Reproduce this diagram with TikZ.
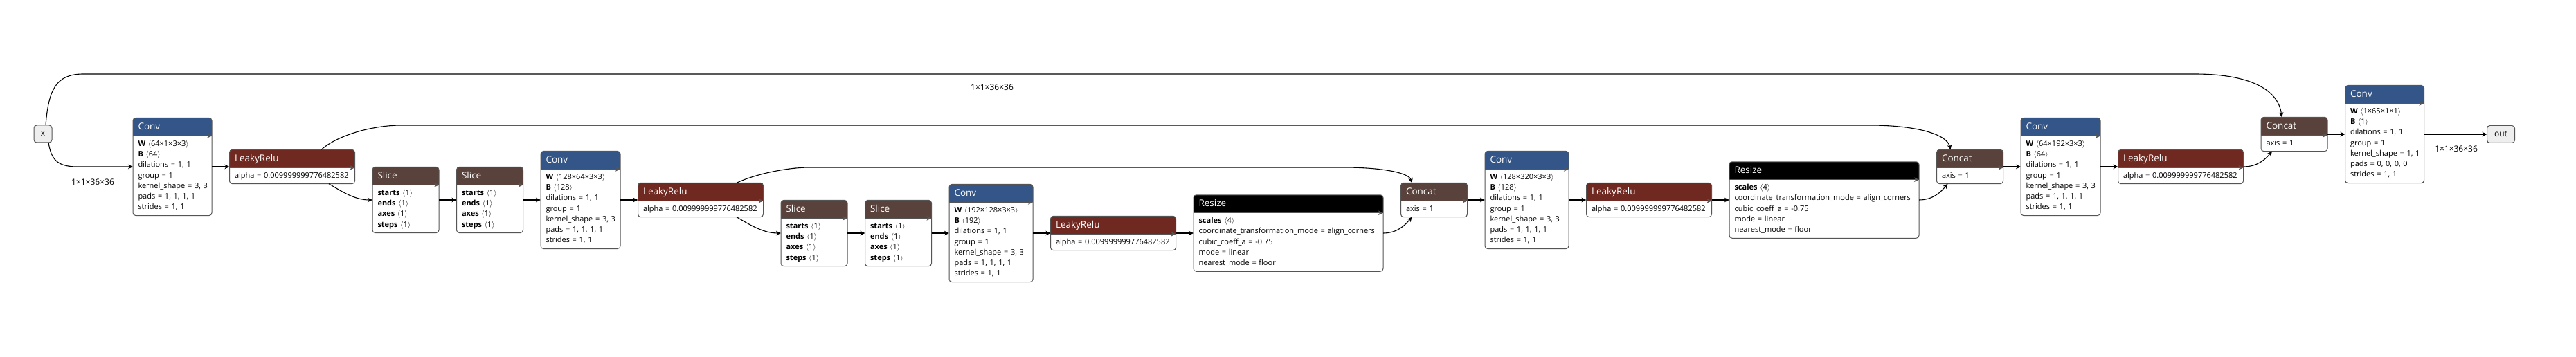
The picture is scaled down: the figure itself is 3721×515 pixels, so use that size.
\documentclass[tikz,border=0pt]{standalone}
\usepackage{fontspec}
\setmainfont{Open Sans}
\usepackage{tikz}
\usetikzlibrary{arrows.meta, positioning}

\definecolor{convblue}{HTML}{335588}
\definecolor{relured}{HTML}{702921}
\definecolor{tensorbrown}{HTML}{59423B}
\definecolor{bordergray}{HTML}{555555}
\definecolor{iofill}{HTML}{EEEEEE}

% header row 26pt, body rows 15.3pt
\newcommand{\optext}[2]{\noindent\begin{tabular}{@{}l@{}}
  \rule[-9pt]{0pt}{26pt}{\color{white}\fontsize{13.5}{16}\selectfont #1}\\
  \rule{0pt}{14.7pt}#2\rule[-8.6pt]{0pt}{0pt}
\end{tabular}}
\newcommand{\shp}[1]{$\langle$#1$\rangle$}
\newcommand{\convtext}[4]{\optext{Conv}{\textbf{W} \shp{#1}\\ \textbf{B} \shp{#2}\\ dilations = 1, 1\\ group = 1\\ kernel\_shape = #3\\ pads = #4\\ strides = 1, 1}}
\newcommand{\relutext}{\optext{LeakyRelu}{alpha = 0.009999999776482582}}
\newcommand{\slicetext}{\optext{Slice}{\textbf{starts} \shp{1}\\ \textbf{ends} \shp{1}\\ \textbf{axes} \shp{1}\\ \textbf{steps} \shp{1}}}
\newcommand{\resizetext}{\optext{Resize}{\textbf{scales} \shp{4}\\ coordinate\_transformation\_mode = align\_corners\\ cubic\_coeff\_a = -0.75\\ mode = linear\\ nearest\_mode = floor}}

\begin{document}
\begin{tikzpicture}[x=1pt,y=1pt,font=\fontsize{11}{15.3}\selectfont,node distance=25.5pt,->,>={Stealth[length=7pt,width=6.5pt,inset=2pt]}]

	\tikzset{node op/.style={draw=bordergray, line width=1pt, rounded corners=4pt,
			fill=white, inner xsep=7.5pt, inner ysep=0pt, outer sep=0pt, align=left,
			path picture={\fill[#1, sharp corners] (path picture bounding box.north west) rectangle ([yshift=-26pt]path picture bounding box.north east);
				\draw[bordergray, line width=1pt, sharp corners] ([yshift=-26pt]path picture bounding box.north west) -- ([yshift=-26pt]path picture bounding box.north east);}}}
	\tikzset{node conv/.style={node op=convblue, text width=#1}}
	\tikzset{node relu/.style={node op=relured, text width=166pt}}
	\tikzset{node slice/.style={node op=tensorbrown, text width=81pt}}
	\tikzset{node resize/.style={node op=black, text width=259pt}}
	\tikzset{node io/.style={draw=bordergray, line width=1pt, fill=iofill,
			rounded corners=4pt, minimum height=25pt, inner sep=0pt, outer sep=0pt,
			font=\fontsize{12}{14}\selectfont}}
	\tikzset{edge lbl/.style={font=\fontsize{12}{14}\selectfont}}

	\useasboundingbox (0,0) rectangle (3721,515);

	\node[node io, minimum width=26pt] (X) at (62,321.5) {x};

	\node[node conv=99pt, anchor=west] (Conv1) at (192,274) {\convtext{64×1×3×3}{64}{3, 3}{1, 1, 1, 1}};
	\node[node relu, right=of Conv1] (Relu1) {\relutext};
	\node[node slice, right=of Relu1, yshift=-48pt] (Slice1) {\slicetext};
	\node[node slice, right=of Slice1] (Slice2) {\slicetext};
	\node[node conv=100pt, right=of Slice2] (Conv2) {\convtext{128×64×3×3}{128}{3, 3}{1, 1, 1, 1}};
	\node[node relu, right=of Conv2] (Relu2) {\relutext};
	\node[node slice, right=of Relu2, yshift=-48pt] (Slice3) {\slicetext};
	\node[node slice, right=of Slice3] (Slice4) {\slicetext};
	\node[node conv=106pt, right=of Slice4] (Conv3) {\convtext{192×128×3×3}{192}{3, 3}{1, 1, 1, 1}};
	\node[node relu, right=of Conv3] (Relu3) {\relutext};
	\node[node resize, right=of Relu3] (Resize1) {\resizetext};
	\node[node slice, right=of Resize1, yshift=48pt] (Concat1) {\optext{Concat}{axis = 1}};
	\node[node conv=106pt, right=of Concat1] (Conv4) {\convtext{128×320×3×3}{128}{3, 3}{1, 1, 1, 1}};
	\node[node relu, right=of Conv4] (Relu4) {\relutext};
	\node[node resize, right=of Relu4] (Resize2) {\resizetext};
	\node[node slice, right=of Resize2, yshift=48pt] (Concat2) {\optext{Concat}{axis = 1}};
	\node[node conv=100pt, right=of Concat2] (Conv5) {\convtext{64×192×3×3}{64}{3, 3}{1, 1, 1, 1}};
	\node[node relu, right=of Conv5] (Relu5) {\relutext};
	\node[node slice, right=of Relu5, yshift=47pt] (Concat3) {\optext{Concat}{axis = 1}};
	\node[node conv=99pt, right=of Concat3] (Conv6) {\convtext{1×65×1×1}{1}{1, 1}{0, 0, 0, 0}};

	\node[node io, minimum width=40pt, right=91pt of Conv6] (Out) {out};

	\node[edge lbl] (Lbl1) at (134,252) {1×1×36×36};
	\node[edge lbl] (Lbl2) at (1433,389) {1×1×36×36};
	\node[edge lbl] (Lbl3) at (3548,300) {1×1×36×36};

	\draw[line width=1.1pt]
	(Conv1) edge (Relu1)
	(Slice1) edge (Slice2)
	(Slice2) edge (Conv2)
	(Conv2) edge (Relu2)
	(Slice3) edge (Slice4)
	(Slice4) edge (Conv3)
	(Conv3) edge (Relu3)
	(Relu3) edge (Resize1)
	(Concat1) edge (Conv4)
	(Conv4) edge (Relu4)
	(Relu4) edge (Resize2)
	(Concat2) edge (Conv5)
	(Conv5) edge (Relu5)
	(Concat3) edge (Conv6)
	(Conv6) edge (Out);

	% skip connections
	\draw[line width=1.1pt] ([xshift=8pt]X.south) .. controls +(4pt,-24pt) and +(-30pt,0pt) .. ([xshift=-80pt]Conv1.west) -- (Conv1.west);
	\draw[line width=1.1pt] ([xshift=4pt]X.north) .. controls +(4pt,50pt) and +(-40pt,0pt) .. (120,408) -- (3170,408) .. controls +(80pt,0pt) and +(-5pt,40pt) .. ([xshift=30pt]Concat3.north west);
	\draw[line width=1.1pt] ([xshift=42pt]Relu1.north) .. controls +(25pt,22pt) and +(-40pt,0pt) .. (580,334) -- (2700,334) .. controls +(70pt,0pt) and +(-5pt,22pt) .. ([xshift=20pt]Concat2.north west);
	\draw[line width=1.1pt] ([xshift=52pt]Relu2.north) .. controls +(25pt,12pt) and +(-35pt,0pt) .. (1170,273) -- (1940,273) .. controls +(60pt,0pt) and +(-4pt,14pt) .. ([xshift=16pt]Concat1.north west);
	\draw[line width=1.1pt] ([xshift=53pt]Relu1.south) .. controls +(20pt,-12pt) and +(-25pt,0pt) .. (Slice1.west);
	\draw[line width=1.1pt] ([xshift=52pt]Relu2.south) .. controls +(20pt,-12pt) and +(-25pt,0pt) .. (Slice3.west);
	\draw[line width=1.1pt] (Resize1.east) .. controls +(20pt,0pt) and +(-10pt,-12pt) .. ([xshift=16pt]Concat1.south west);
	\draw[line width=1.1pt] (Resize2.east) .. controls +(20pt,0pt) and +(-10pt,-12pt) .. ([xshift=16pt]Concat2.south west);
	\draw[line width=1.1pt] (Relu5.east) .. controls +(20pt,0pt) and +(-10pt,-12pt) .. ([xshift=16pt]Concat3.south west);
\end{tikzpicture}
\end{document}
